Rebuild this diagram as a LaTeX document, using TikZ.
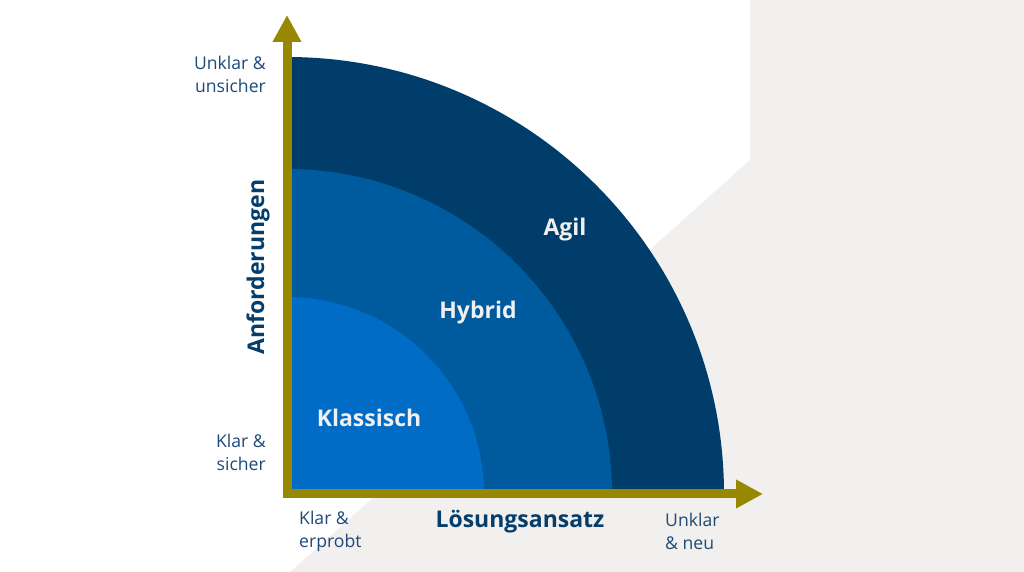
\documentclass[tikz,border=0pt]{standalone}
\usepackage{fontspec}
\setmainfont{Open Sans}
\usepackage{tikz}
\usetikzlibrary{calc, arrows.meta, positioning}

\definecolor{olive}{RGB}{152,135,0}
\definecolor{bggray}{RGB}{241,240,238}
\definecolor{agilblue}{RGB}{0,61,106}
\definecolor{hybridblue}{RGB}{0,90,158}
\definecolor{classicblue}{RGB}{0,108,198}
\definecolor{labelblue}{RGB}{30,74,120}
\definecolor{titleblue}{RGB}{5,61,107}
\definecolor{ringtext}{RGB}{240,240,240}

\begin{document}
\begin{tikzpicture}[x=1pt, y=1pt,
   axis/.style={draw=olive, line width=9pt, line cap=rect, -{Triangle[length=27pt,width=27pt]}},
   ring node/.style={text=ringtext, font=\fontsize{23}{27}\selectfont\bfseries},
   title node/.style={text=titleblue, font=\fontsize{23}{27}\selectfont\bfseries},
   side node/.style={text=labelblue, font=\fontsize{17.6}{23}\selectfont, inner sep=0pt}]
   \useasboundingbox (0,0) rectangle (1024,572);
   \fill[white] (0,0) rectangle (1024,572);
   \fill[bggray] (750,572) -- (1024,572) -- (1024,0) -- (290,0) -- (750,412) -- cycle;

   \coordinate (o) at (287,78);
   \coordinate (ytop) at (287,557);
   \coordinate (xend) at (763,78);

   \fill[agilblue] (o) -- ++(437,0) arc[start angle=0, end angle=90, radius=437pt] -- cycle;
   \fill[hybridblue] (o) -- ++(325,0) arc[start angle=0, end angle=90, radius=325pt] -- cycle;
   \fill[classicblue] (o) -- ++(197,0) arc[start angle=0, end angle=90, radius=197pt] -- cycle;

   \draw[axis] (o) -- (ytop);
   \draw[axis] (o) -- (xend);

   \node[ring node] (agil) at (565,342) {Agil};
   \node[ring node] (hybrid) at (478,259) {Hybrid};
   \node[ring node] (klassisch) at (369,154) {Klassisch};

   \node[title node, rotate=90] (anf) at (258,305) {Anforderungen};
   \node[title node] (loes) at (520,50) {Lösungsansatz};

   \node[side node, anchor=east, align=right] (ytopl) at (266,498) {Unklar \&\\unsicher};
   \node[side node, anchor=east, align=right] (ybotl) at (266,120) {Klar \&\\sicher};
   \node[side node, anchor=west, align=left] (xleft) at (299,41) {Klar \&\\erprobt};
   \node[side node, anchor=west, align=left] (xright) at (665,41) {Unklar\\\& neu};
\end{tikzpicture}
\end{document}
